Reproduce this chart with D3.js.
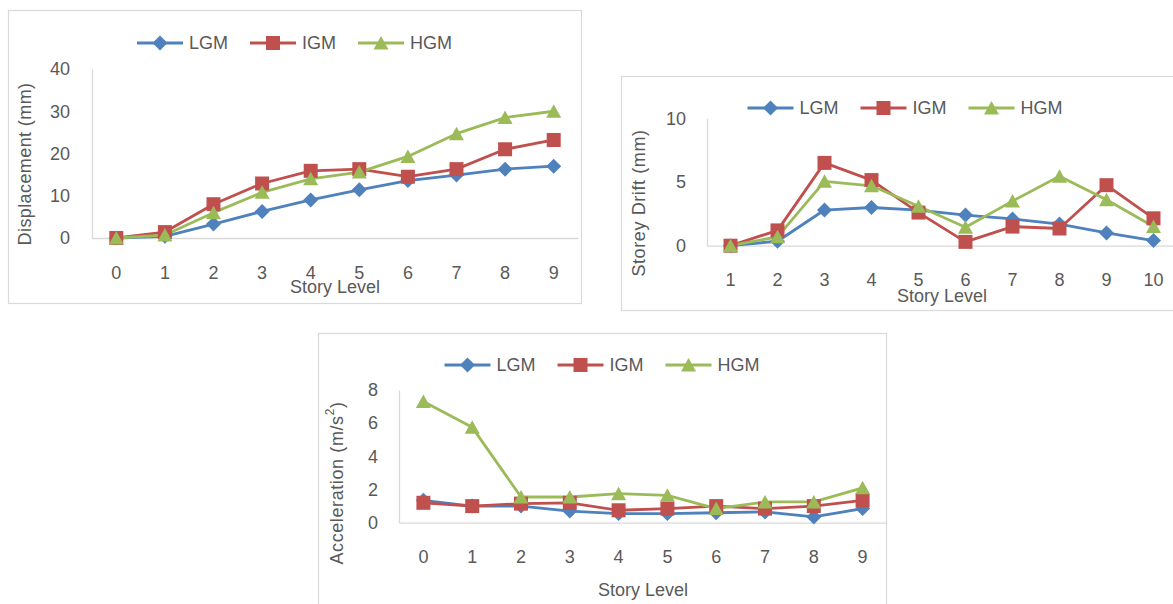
<!DOCTYPE html>
<html><head><meta charset="utf-8">
<script src="https://cdn.jsdelivr.net/npm/d3@7"></script>
<style>
html,body{margin:0;padding:0;background:#fff;}
svg{display:block;}
text{font-family:"Liberation Sans",Arial,sans-serif;fill:#595959;}
</style></head>
<body>
<svg id="c" width="1173" height="604"></svg>
<script>
// ---------- DATA ----------
const seriesNames = ["LGM", "IGM", "HGM"];

const dispLevels = ["0","1","2","3","4","5","6","7","8","9"];
const dispTicks = [0, 10, 20, 30, 40];
const dispLGM = [0, 0.4, 3.3, 6.3, 9.0, 11.4, 13.6, 14.9, 16.3, 17.0];
const dispIGM = [0, 1.4, 8.0, 12.9, 15.9, 16.3, 14.5, 16.3, 21.0, 23.2];
const dispHGM = [0, 0.7, 6.0, 10.8, 14.0, 15.6, 19.3, 24.7, 28.5, 30.0];

const driftLevels = ["1","2","3","4","5","6","7","8","9","10"];
const driftTicks = [0, 5, 10];
const driftLGM = [0, 0.35, 2.8, 3.0, 2.8, 2.4, 2.1, 1.7, 1.0, 0.4];
const driftIGM = [0, 1.2, 6.5, 5.15, 2.6, 0.3, 1.5, 1.35, 4.75, 2.15];
const driftHGM = [0, 0.7, 5.05, 4.7, 3.1, 1.45, 3.5, 5.45, 3.6, 1.5];

const accLevels = ["0","1","2","3","4","5","6","7","8","9"];
const accTicks = [0, 2, 4, 6, 8];
const accLGM = [1.35, 1.0, 1.0, 0.7, 0.55, 0.55, 0.6, 0.65, 0.35, 0.85];
const accIGM = [1.2, 1.0, 1.15, 1.2, 0.75, 0.85, 1.0, 0.85, 1.0, 1.35];
const accHGM = [7.3, 5.75, 1.55, 1.55, 1.75, 1.65, 0.85, 1.25, 1.25, 2.1];

// ---------- STYLE ----------
const colors = ["#4F81BD", "#C0504D", "#9BBB59"];
const shapes = ["diamond", "square", "triangle"];

function markerPath(shape) {
  if (shape === "diamond") return "M0,-7.5L7.5,0L0,7.5L-7.5,0Z";
  if (shape === "square") return "M-7,-7H7V7H-7Z";
  return "M0,-7L7.5,6.5L-7.5,6.5Z";
}

const svg = d3.select("#c");

function drawChart(cfg) {
  const g = svg.append("g");
  g.append("rect")
    .attr("x", cfg.box[0] + 0.5).attr("y", cfg.box[1] + 0.5)
    .attr("width", cfg.box[2] - cfg.box[0]).attr("height", cfg.box[3] - cfg.box[1])
    .attr("fill", "#fff").attr("stroke", "#D9D9D9").attr("stroke-width", 1.2);

  const x = d3.scaleBand().domain(cfg.cats).range([cfg.plot[0], cfg.plot[2]]).padding(0);
  const y = d3.scaleLinear().domain([cfg.ticks[0], cfg.ticks[cfg.ticks.length - 1]])
    .range([cfg.plot[3], cfg.plot[1]]);

  const yAxis = g.append("g").attr("transform", `translate(${cfg.plot[0]},0)`)
    .call(d3.axisLeft(y).tickValues(cfg.ticks).tickSize(0).tickPadding(cfg.yPad).tickFormat(d3.format("d")));
  const xAxis = g.append("g").attr("transform", `translate(0,${cfg.plot[3]})`)
    .call(d3.axisBottom(x).tickSize(0).tickPadding(28));
  [yAxis, xAxis].forEach(a => {
    a.select(".domain").attr("stroke", "#D9D9D9").attr("stroke-width", 1.3);
    a.selectAll("text").attr("font-size", 18).attr("fill", "#595959")
      .attr("font-family", '"Liberation Sans",Arial,sans-serif');
  });

  const cx = d => x(d) + x.bandwidth() / 2;
  cfg.series.forEach((vals, si) => {
    const pts = cfg.cats.map((c, i) => [cx(c), y(vals[i])]);
    g.append("path").attr("d", d3.line()(pts)).attr("fill", "none")
      .attr("stroke", colors[si]).attr("stroke-width", 2.8).attr("stroke-linejoin", "round");
  });
  cfg.series.forEach((vals, si) => {
    g.selectAll(null).data(cfg.cats).enter().append("path")
      .attr("d", markerPath(shapes[si]))
      .attr("transform", (c, i) => `translate(${cx(c)},${y(vals[i])})`)
      .attr("fill", colors[si]);
  });

  g.append("text").attr("x", (cfg.plot[0] + cfg.plot[2]) / 2).attr("y", cfg.xTitleY)
    .attr("text-anchor", "middle").attr("font-size", 18).text("Story Level");

  const yt = g.append("text").attr("transform", `translate(${cfg.yTitle[0]},${cfg.yTitle[1]}) rotate(-90)`)
    .attr("text-anchor", "middle").attr("dominant-baseline", "central")
    .attr("font-size", 18).attr("letter-spacing", cfg.yLS || 0);
  if (cfg.yTitleSup) {
    yt.append("tspan").text(cfg.yTitleText);
    yt.append("tspan").attr("baseline-shift", "super").attr("font-size", 12).text(cfg.yTitleSup);
    yt.append("tspan").text(cfg.yTitleEnd);
  } else {
    yt.text(cfg.yTitleText);
  }

  const lg = g.append("g");
  let cursor = 0;
  seriesNames.forEach((name, si) => {
    const e = lg.append("g").attr("transform", `translate(${cursor},0)`);
    e.append("line").attr("x1", 0).attr("x2", 46).attr("y1", 0).attr("y2", 0)
      .attr("stroke", colors[si]).attr("stroke-width", 2.8);
    e.append("path").attr("d", markerPath(shapes[si])).attr("transform", "translate(23,0)").attr("fill", colors[si]);
    const t = e.append("text").attr("x", 52).attr("y", 0).attr("dominant-baseline", "central")
      .attr("font-size", 18).text(name);
    cursor += 52 + t.node().getComputedTextLength() + 22;
  });
  const legW = cursor - 22;
  const boxC = (cfg.box[0] + cfg.box[2]) / 2;
  lg.attr("transform", `translate(${boxC - legW / 2},${cfg.legendY})`);
}

drawChart({
  box: [8, 10, 581, 303],
  plot: [92, 69, 578, 238],
  cats: dispLevels, ticks: dispTicks,
  series: [dispLGM, dispIGM, dispHGM],
  yPad: 22, xTitleY: 293, legendY: 43,
  yTitle: [25, 164], yTitleText: "Displacement (mm)", yLS: 0.4
});

drawChart({
  box: [621, 76, 1189, 310],
  plot: [707, 118.3, 1177, 245.7],
  cats: driftLevels, ticks: driftTicks,
  series: [driftLGM, driftIGM, driftHGM],
  yPad: 21, xTitleY: 302, legendY: 108,
  yTitle: [639, 203], yTitleText: "Storey Drift (mm)", yLS: 0.6
});

drawChart({
  box: [318, 333, 886, 620],
  plot: [399, 390, 887, 522.7],
  cats: accLevels, ticks: accTicks,
  series: [accLGM, accIGM, accHGM],
  yPad: 21, xTitleY: 596, legendY: 365,
  yTitle: [337, 483], yTitleText: "Acceleration (m/s", yTitleSup: "2", yTitleEnd: ")", yLS: 0.6
});
</script>
</body></html>
